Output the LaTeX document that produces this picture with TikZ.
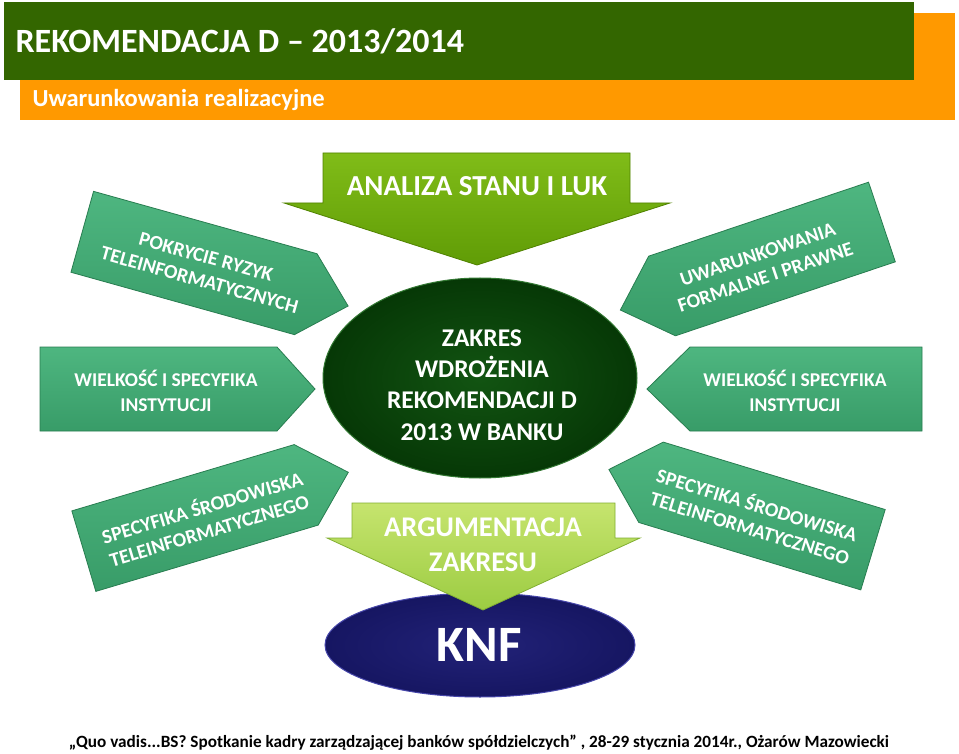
\documentclass[tikz,border=0pt]{standalone}
\usepackage{fontspec}
\setmainfont{Carlito}
\usetikzlibrary{shadings}
\definecolor{hdgreen}{RGB}{51,102,0}
\definecolor{hdorange}{RGB}{255,153,0}
\definecolor{sidetop}{RGB}{78,182,128}
\definecolor{sidebot}{RGB}{56,156,104}
\definecolor{sidedraw}{RGB}{40,125,80}
\definecolor{toptop}{RGB}{128,188,24}
\definecolor{topbot}{RGB}{96,156,6}
\definecolor{topdraw}{RGB}{80,130,0}
\definecolor{bottop}{RGB}{198,228,110}
\definecolor{botbot}{RGB}{156,204,66}
\definecolor{botdraw}{RGB}{130,175,50}
\definecolor{ellin}{RGB}{18,84,18}
\definecolor{ellout}{RGB}{6,56,6}
\definecolor{elldraw}{RGB}{50,120,50}
\definecolor{knfin}{RGB}{34,34,120}
\definecolor{knfout}{RGB}{22,22,98}
\definecolor{knfdraw}{RGB}{70,70,170}
\tikzset{
  sidearrow/.style={draw=sidedraw, line width=0.8pt, top color=sidetop, bottom color=sidebot},
  sidetext/.style={text=white, align=center, font=\bfseries\fontsize{19.5}{24.4}\selectfont},
  rottext/.style={text=white, align=center, font=\bfseries\fontsize{20}{24}\selectfont, transform shape},
  bigtext/.style={text=white, align=center},
}
\begin{document}
\begin{tikzpicture}[x=1pt,y=-1pt]
\useasboundingbox (0,0) rectangle (959,754);
\fill[white] (0,0) rectangle (959,754);
% header
\fill[hdorange] (20,13) rectangle (955,120);
\fill[hdgreen] (4,2) rectangle (914,80);
\node[anchor=base west, text=white, font=\bfseries\fontsize{34}{40}\selectfont] (title) at (12,53) {REKOMENDACJA D – 2013/2014};
\node[anchor=base west, text=white, font=\bfseries\fontsize{24.5}{30}\selectfont] (subtitle) at (29,107) {Uwarunkowania realizacyjne};

% top arrow
\path[draw=topdraw, line width=0.8pt, top color=toptop, bottom color=topbot]
  (323,153) -- (630,153) -- (630,203) -- (670,203) -- (477,265) -- (284,203) -- (323,203) -- cycle;
\node[bigtext, font=\bfseries\fontsize{29}{34}\selectfont] (analiza) at (477,186) {ANALIZA STANU I LUK};

% center ellipse
\path[draw=elldraw, line width=1pt, inner color=ellin, outer color=ellout] (480,378) ellipse [x radius=157, y radius=100];
\node[bigtext, font=\bfseries\fontsize{25.5}{31.3}\selectfont] (zakres) at (482,385) {ZAKRES\\WDROŻENIA\\REKOMENDACJI D\\2013 W BANKU};

% KNF ellipse
\path[draw=knfdraw, line width=1pt, inner color=knfin, outer color=knfout] (480,645) ellipse [x radius=155, y radius=52];
% bottom arrow
\path[draw=botdraw, line width=0.8pt, top color=bottop, bottom color=botbot]
  (352,503) -- (615,503) -- (615,538) -- (640,538) -- (483,610) -- (327,538) -- (352,538) -- cycle;
\node[bigtext, font=\bfseries\fontsize{28.5}{35}\selectfont] (argument) at (483,545) {ARGUMENTACJA\\ZAKRESU};
\node[bigtext, font=\bfseries\fontsize{51}{55}\selectfont] (knf) at (479,645) {KNF};

% middle side arrows
\path[sidearrow] (40,347) -- (277,347) -- (315,389) -- (277,431) -- (40,431) -- cycle;
\node[sidetext] (wl) at (166,391) {WIELKOŚĆ I SPECYFIKA\\INSTYTUCJI};
\path[sidearrow] (922,347) -- (690,347) -- (647,389) -- (690,431) -- (922,431) -- cycle;
\node[sidetext] (wr) at (795,391) {WIELKOŚĆ I SPECYFIKA\\INSTYTUCJI};

% top-left rotated arrow
\begin{scope}[shift={(194,263)}, rotate=-15.6]
  \path[sidearrow] (-116,-42) -- (116,-42) -- (160,0) -- (116,42) -- (-116,42) -- cycle;
  \node[rottext] (tl) at (10,3) {POKRYCIE RYZYK\\TELEINFORMATYCZNYCH};
\end{scope}
% top-right rotated arrow
\begin{scope}[shift={(772,259)}, rotate=18.6]
  \path[sidearrow] (116,-42) -- (-116,-42) -- (-160,0) -- (-116,42) -- (116,42) -- cycle;
  \node[rottext] (tr) at (-12,3) {UWARUNKOWANIA\\FORMALNE I PRAWNE};
\end{scope}
% bottom-left rotated arrow
\begin{scope}[shift={(195,518)}, rotate=16.6]
  \path[sidearrow] (-116,-42) -- (116,-42) -- (160,0) -- (116,42) -- (-116,42) -- cycle;
  \node[rottext] (bl) at (10,3) {SPECYFIKA ŚRODOWISKA\\TELEINFORMATYCZNEGO};
\end{scope}
% bottom-right rotated arrow
\begin{scope}[shift={(762,516)}, rotate=-16.9]
  \path[sidearrow] (116,-42) -- (-116,-42) -- (-160,0) -- (-116,42) -- (116,42) -- cycle;
  \node[rottext] (br) at (-8,2) {SPECYFIKA ŚRODOWISKA\\TELEINFORMATYCZNEGO};
\end{scope}

% footer
\node[font=\bfseries\fontsize{17.2}{20}\selectfont, text=black] (footer) at (479,743) {„Quo vadis...BS? Spotkanie kadry zarządzającej banków spółdzielczych” , 28-29 stycznia 2014r., Ożarów Mazowiecki};
\end{tikzpicture}
\end{document}
